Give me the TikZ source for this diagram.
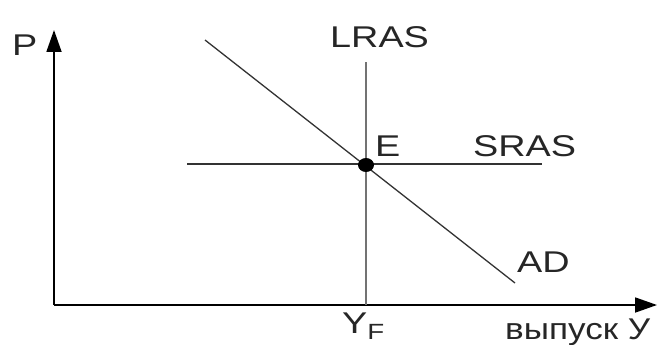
\documentclass[tikz,border=0pt]{standalone}
\usepackage{fontspec}
\setmainfont{Liberation Sans}
\usetikzlibrary{arrows.meta}
\tikzset{
  lbl/.style={inner sep=0pt, font=\fontsize{30}{34}\selectfont, text=black!85},
  axis/.style={line width=1.8pt, -{Triangle[length=22pt,width=15pt]}},
  curve/.style={line width=1.3pt, black!80},
}
\newcommand{\wide}[1]{\scalebox{1.26}[1]{#1}}
\begin{document}
\begin{tikzpicture}[x=1pt,y=-1pt]
\useasboundingbox (0,0) rectangle (658,345);
\coordinate (O) at (54,305);
\coordinate (ytop) at (54,30);
\coordinate (xend) at (657,305);
\draw[axis] (O) -- (ytop);
\draw[axis] (O) -- (xend);
% LRAS
\coordinate (lt) at (366,62);
\coordinate (lb) at (366,305);
\draw[line width=2.8pt, black!55] (lb) -- (lt);
% SRAS
\coordinate (sl) at (187,164);
\coordinate (sr) at (542,164);
\draw[curve] (sl) -- (sr);
% AD
\coordinate (al) at (205,40);
\coordinate (ar) at (515,283);
\draw[curve] (al) -- (ar);
% E point
\fill (366,165) ellipse [x radius=8pt, y radius=7pt];
\node[coordinate] (E) at (366,165) {};
% labels
\node[lbl, anchor=base west] (P) at (12,56) {\wide{P}};
\node[lbl, anchor=base west] (LRAS) at (330,48) {\wide{LRAS}};
\node[lbl, anchor=base west] (Elbl) at (375,156) {\wide{E}};
\node[lbl, anchor=base west] (SRAS) at (473,156) {\wide{SRAS}};
\node[lbl, anchor=base west] (AD) at (517,272) {\wide{AD}};
\node[lbl, anchor=base west] (YF) at (342,333) {\wide{Y\raisebox{-6pt}{\fontsize{22}{24}\selectfont F}}};
\node[lbl, anchor=base west] (out) at (505,339) {\scalebox{1.17}[1]{выпуск У}};
\end{tikzpicture}
\end{document}
